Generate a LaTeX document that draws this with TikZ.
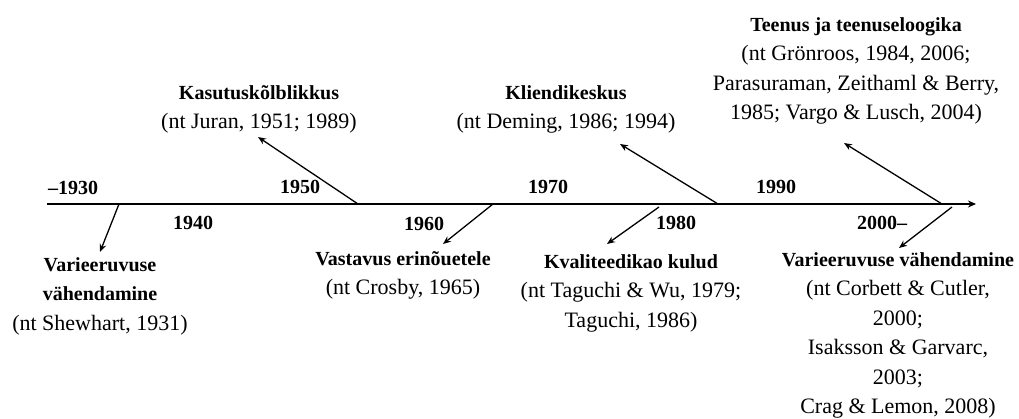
\documentclass[tikz,border=0pt]{standalone}
\usepackage{fontspec}
\setmainfont{Liberation Serif}
\usetikzlibrary{arrows.meta}
\tikzset{
  yearlbl/.style={font=\fontsize{20}{24}\selectfont\bfseries, inner sep=0pt, anchor=center},
  block/.style={font=\fontsize{22}{29.5}\selectfont, align=center, inner sep=0pt, anchor=north},
  axisline/.style={line width=1.5pt, -{Stealth[length=8pt,width=7pt]}},
  pointer/.style={line width=1.3pt, -{Stealth[length=8pt,width=6.5pt]}},
}
\newcommand{\hd}[1]{{\fontsize{20}{29.5}\selectfont\bfseries #1}}
\begin{document}
\begin{tikzpicture}[x=1pt,y=-1pt]
\useasboundingbox (0,0) rectangle (1019,419);
% axis
\coordinate (axS) at (47,204);
\coordinate (axE) at (976,204);
\draw[axisline] (axS) -- (axE);
% year labels
\node[yearlbl] (y1930) at (73,188) {--1930};
\node[yearlbl] (y1940) at (193,223) {1940};
\node[yearlbl] (y1950) at (300,187) {1950};
\node[yearlbl] (y1960) at (424,224) {1960};
\node[yearlbl] (y1970) at (548,187) {1970};
\node[yearlbl] (y1980) at (676,223) {1980};
\node[yearlbl] (y1990) at (776,187) {1990};
\node[yearlbl] (y2000) at (882,223) {2000--};
% text blocks
\node[block] (varL) at (100,257) {\hd{Varieeruvuse}\\ \hd{vähendamine}\\ (nt Shewhart, 1931)};
\node[block] (kasut) at (259,85) {\hd{Kasutuskõlblikkus}\\ (nt Juran, 1951; 1989)};
\node[block] (vast) at (403,251) {\hd{Vastavus erinõuetele}\\ (nt Crosby, 1965)};
\node[block] (klient) at (566,85) {\hd{Kliendikeskus}\\ (nt Deming, 1986; 1994)};
\node[block] (kval) at (631,254) {\hd{Kvaliteedikao kulud}\\ (nt Taguchi \& Wu, 1979;\\ Taguchi, 1986)};
\node[block] (teenus) at (856,17) {\hd{Teenus ja teenuseloogika}\\ (nt Grönroos, 1984, 2006;\\ Parasuraman, Zeithaml \& Berry,\\ 1985; Vargo \& Lusch, 2004)};
\node[block] (varR) at (898,252) {\hd{Varieeruvuse vähendamine}\\ (nt Corbett \& Cutler,\\ 2000;\\ Isaksson \& Garvarc,\\ 2003;\\ Crag \& Lemon, 2008)};
% pointer coordinates
\coordinate (s1) at (119,204); \coordinate (e1) at (100,252);
\coordinate (s2) at (358,204); \coordinate (e2) at (258,137);
\coordinate (s3) at (493,204); \coordinate (e3) at (443,244);
\coordinate (s4) at (718,204); \coordinate (e4) at (620,144);
\coordinate (s5) at (659,207); \coordinate (e5) at (607,244);
\coordinate (s6) at (942,204); \coordinate (e6) at (844,143);
\coordinate (s7) at (952,207); \coordinate (e7) at (899,248);
\draw[pointer] (s1) -- (e1);
\draw[pointer] (s2) -- (e2);
\draw[pointer] (s3) -- (e3);
\draw[pointer] (s4) -- (e4);
\draw[pointer] (s5) -- (e5);
\draw[pointer] (s6) -- (e6);
\draw[pointer] (s7) -- (e7);
\end{tikzpicture}
\end{document}
